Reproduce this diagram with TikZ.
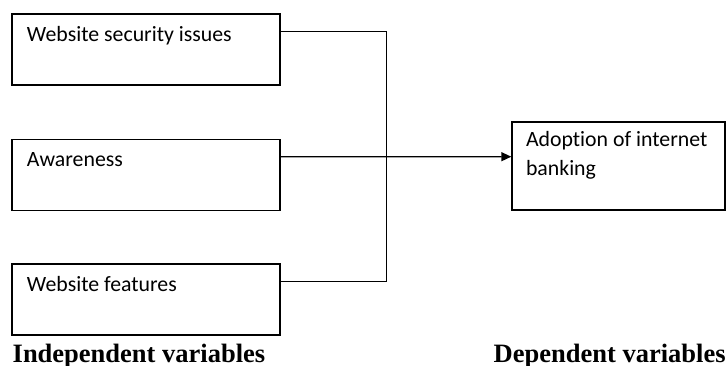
\documentclass[tikz,border=0pt]{standalone}
\usepackage{fontspec}
\setmainfont{Liberation Serif}
\newfontfamily\boxfont[Ligatures=NoCommon]{Carlito}
\usetikzlibrary{
  arrows.meta,
  calc,
  positioning
}
\tikzset{
  line cap=round,
  line join=round,
  every picture/.style={line width=1.4pt},
  varbox/.style={draw, minimum width=268pt, minimum height=71pt, inner sep=0pt},
  boxtext/.style={anchor=base west, inner sep=0pt, align=left,
    font=\boxfont\fontsize{21.8}{29}\selectfont},
  vartitle/.style={anchor=base west, inner sep=0pt,
    font=\fontsize{26.5}{30}\selectfont\bfseries},
  arrow/.style={-{Triangle[length=10pt,width=9pt]}}
}
\begin{document}
\begin{tikzpicture}[x=1pt,y=1pt]
  \useasboundingbox (0,0) rectangle (726,365);

  % boxes
  \node[varbox] (sec) at (146,315.5) {};
  \node[varbox] (aware) at (146,190.25) {};
  \node[varbox] (feat) at (146,65.5) {};
  \node[varbox, minimum width=213pt, minimum height=88pt] (adopt) at (618.5,199) {};

  % texts in the boxes
  \node[boxtext] (secT) at ([xshift=15pt,yshift=-28pt]sec.north west) {Website security issues};
  \node[boxtext] (awareT) at ([xshift=15pt,yshift=-28pt]aware.north west) {Awareness};
  \node[boxtext] (featT) at ([xshift=15pt,yshift=-28pt]feat.north west) {Website features};
  % base anchor sits on the last line here
  \node[boxtext] (adoptT) at ([xshift=14pt,yshift=-54pt]adopt.north west) {Adoption of internet\\banking};

  % connectors
  \coordinate (J) at (386.7,208.3);
  \draw ([yshift=18pt]sec.east) -| (J);
  \draw ([yshift=18pt]feat.east) -| (J);
  \draw[arrow] ([yshift=18pt]aware.east) -- (J) -- (adopt.west |- J);

  % captions
  \node[vartitle] (indep) at (12,2.5) {Independent variables};
  \node[vartitle] (dep) at (493,2.5) {Dependent variables};
\end{tikzpicture}
\end{document}
